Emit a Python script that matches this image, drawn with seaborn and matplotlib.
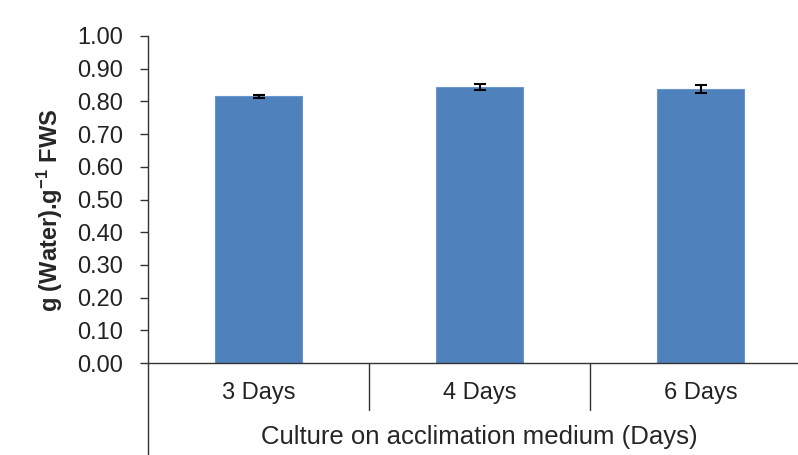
import numpy as np
import matplotlib
matplotlib.use('Agg')
import matplotlib.pyplot as plt
import matplotlib.transforms as mtransforms
import seaborn as sns
import pandas as pd

# data
categories = ['3 Days', '4 Days', '6 Days']
water_content = [0.815, 0.843, 0.838]
std_err = [0.005, 0.009, 0.012]
y_ticks = [0.0, 0.1, 0.2, 0.3, 0.4, 0.5, 0.6, 0.7, 0.8, 0.9, 1.0]

sns.set_style('white')
plt.rcParams['font.family'] = ['Liberation Sans', 'DejaVu Sans']
plt.rcParams['text.color'] = '#222222'
plt.rcParams['mathtext.default'] = 'regular'

df = pd.DataFrame({'days': categories, 'water': water_content})

W, H = 798, 455
fig = plt.figure(figsize=(W / 100, H / 100), dpi=100)
# axes runs a little past the right edge, like the cropped original
ax = fig.add_axes([148 / W, (H - 363) / H, 663 / W, 327 / H])

sns.barplot(data=df, x='days', y='water', color='#4F81BD', saturation=1,
            width=0.39, errorbar=None, edgecolor='#6A95CB', linewidth=0.8, ax=ax)
ax.errorbar(range(len(categories)), water_content, yerr=std_err, fmt='none',
            ecolor='black', elinewidth=1.5, capsize=4, capthick=1.5)

ax.set_xlim(-0.5, 2.5)
ax.set_ylim(0, 1.0)
ax.set_yticks(y_ticks)
ax.set_yticklabels([f'{v:.2f}' for v in y_ticks], fontsize=17, color='#222222')
ax.tick_params(axis='y', direction='out', length=6, width=1, color='#333333', pad=12, left=True)
ax.tick_params(axis='x', length=0, pad=14, labelsize=17, labelcolor='#222222')

for side in ['top', 'right']:
    ax.spines[side].set_visible(False)
for side in ['left', 'bottom']:
    ax.spines[side].set_color('#333333')
    ax.spines[side].set_linewidth(1)

# y axis line continues down to the bottom, category separators below the axis
ax.plot([0, 0], [0, -0.3], transform=ax.transAxes, clip_on=False, color='#333333', lw=1)
trans = mtransforms.blended_transform_factory(ax.transData, ax.transAxes)
for xs in [0.5, 1.5, 2.5]:
    ax.plot([xs, xs], [0, -0.145], transform=trans, clip_on=False, color='#333333', lw=1)

ax.set_xlabel('Culture on acclimation medium (Days)', fontsize=18.5)
ax.set_ylabel('g (Water).g$^{-1}$ FWS', fontsize=17, fontweight='bold')
ax.yaxis.set_label_coords(-0.125, 0.468)
ax.xaxis.set_label_coords((479 - 148) / 663, (363 - 425) / 327)

fig.savefig('out.png', dpi=100)
